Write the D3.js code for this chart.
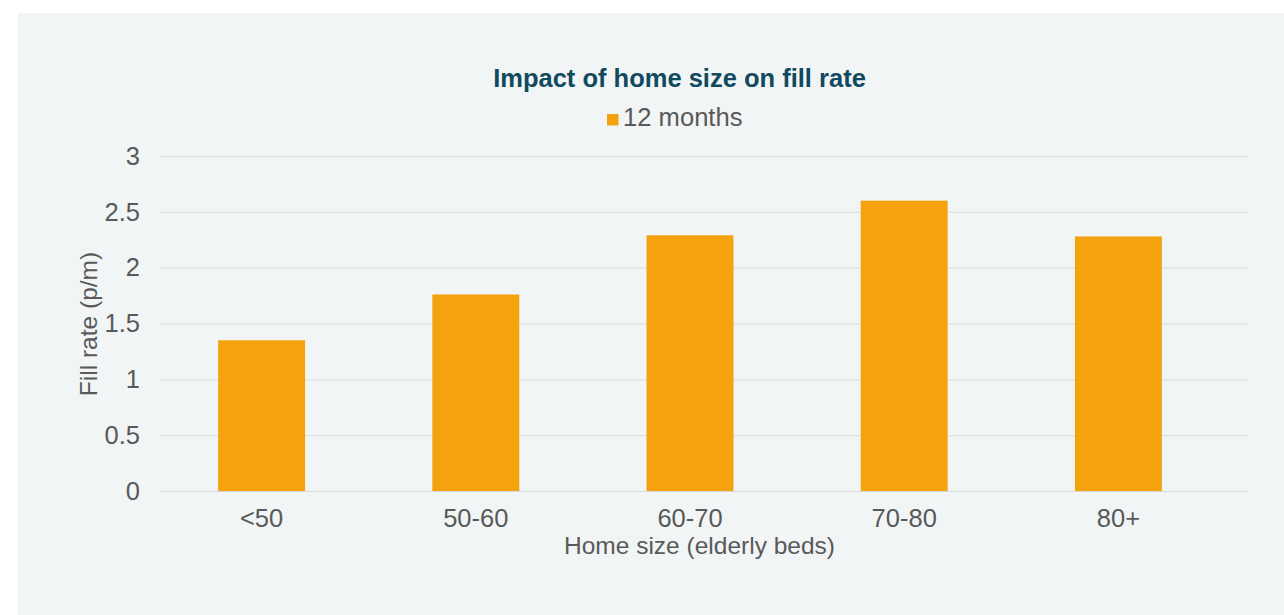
<!DOCTYPE html>
<html><head><meta charset="utf-8">
<script src="https://cdn.jsdelivr.net/npm/d3@7"></script>
<style>html,body{margin:0;padding:0;background:#fff;}svg{display:block;}</style>
</head><body>
<svg id="chart" width="1284" height="615"></svg>
<script>
const categories = ["<50", "50-60", "60-70", "70-80", "80+"];
const values = [1.35, 1.76, 2.29, 2.60, 2.28];
const yTicks = [0, 0.5, 1, 1.5, 2, 2.5, 3];
const seriesName = "12 months";
const title = "Impact of home size on fill rate";
const xTitle = "Home size (elderly beds)";
const yTitle = "Fill rate (p/m)";

const svg = d3.select("#chart");
const font = "'Liberation Sans', Arial, Helvetica, sans-serif";
const textColor = "#595959";
const barColor = "#f4a30f";

svg.append("rect").attr("x", 18).attr("y", 13).attr("width", 1284 - 18).attr("height", 615 - 13).attr("fill", "#f1f5f6");

const x = d3.scaleBand().domain(categories).range([154.5, 1225.5]).paddingInner(0.594).paddingOuter(0.297);
const y = d3.scaleLinear().domain([0, 3]).range([491, 156]);

// gridlines
const yAxis = d3.axisLeft(y).tickValues(yTicks).tickSize(-(1247 - 160)).tickPadding(20).tickFormat(d3.format("~g"));
const gy = svg.append("g").attr("transform", "translate(160,0)").call(yAxis);
gy.select(".domain").remove();
gy.selectAll(".tick line").attr("stroke", "#d9d9d9").attr("stroke-width", 1);
gy.selectAll(".tick text").attr("fill", textColor).style("font-family", font).style("font-size", "25.5px");

// bars
svg.append("g").selectAll("rect").data(categories).join("rect")
  .attr("x", d => x(d)).attr("width", x.bandwidth())
  .attr("y", (d, i) => y(values[i])).attr("height", (d, i) => y(0) - y(values[i]))
  .attr("fill", barColor);

// x axis
const xAxis = d3.axisBottom(x).tickSize(0).tickPadding(18);
const gx = svg.append("g").attr("transform", "translate(0,491)").call(xAxis);
gx.select(".domain").remove();
gx.selectAll(".tick text").attr("fill", textColor).style("font-family", font).style("font-size", "25.5px");

// title
svg.append("text").attr("x", 679.5).attr("y", 87).attr("text-anchor", "middle")
  .attr("fill", "#114a5e").style("font-family", font).style("font-size", "25.5px").style("font-weight", "bold").text(title);

// legend
svg.append("rect").attr("x", 607).attr("y", 114).attr("width", 11.5).attr("height", 11.5).attr("fill", barColor);
svg.append("text").attr("x", 623).attr("y", 126).attr("fill", textColor)
  .style("font-family", font).style("font-size", "25.6px").text(seriesName);

// axis titles
svg.append("text").attr("x", 699.5).attr("y", 554).attr("text-anchor", "middle").attr("fill", textColor)
  .style("font-family", font).style("font-size", "24.5px").text(xTitle);
svg.append("text").attr("transform", "translate(97,324) rotate(-90)").attr("text-anchor", "middle").attr("fill", textColor)
  .style("font-family", font).style("font-size", "24.5px").text(yTitle);
</script>
</body></html>
